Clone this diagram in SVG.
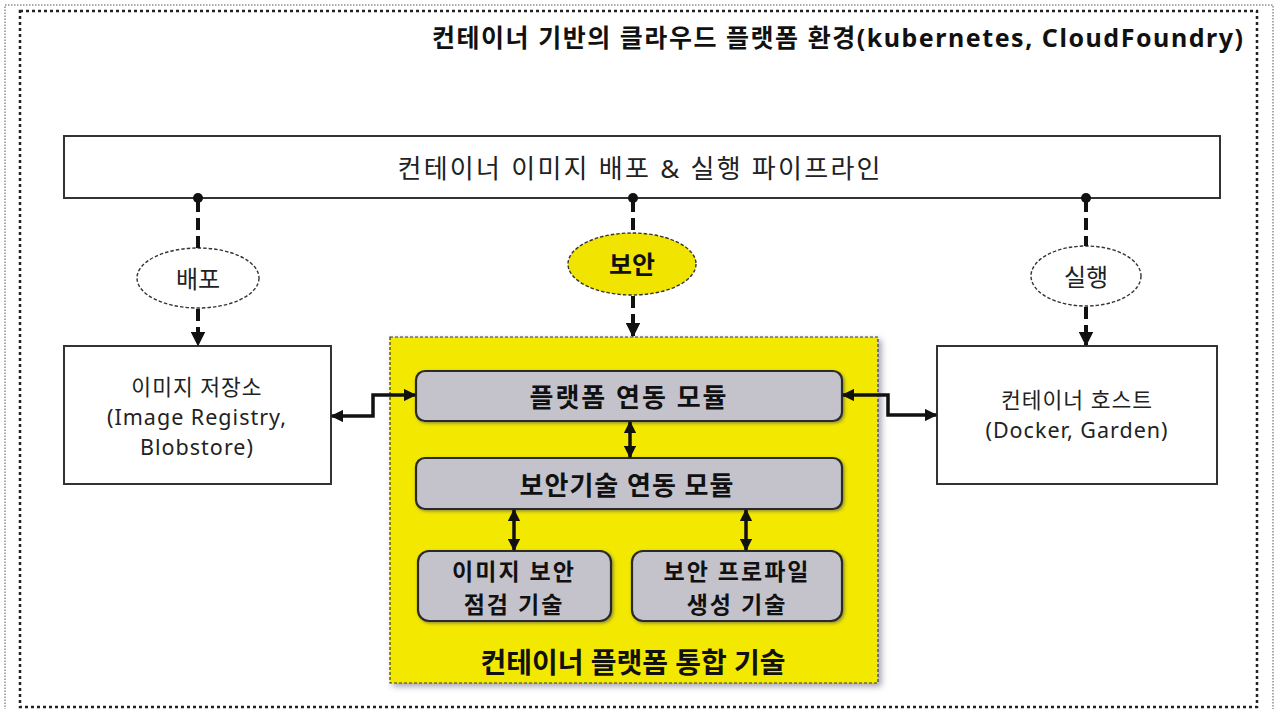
<svg xmlns="http://www.w3.org/2000/svg" width="1275" height="709" viewBox="0 0 1275 709">
<defs>
<style>
.t{font-family:"Noto Sans","Noto Sans CJK KR",sans-serif;fill:#222;text-anchor:middle;dominant-baseline:central}
.b{font-weight:bold;fill:#111}
.box{fill:#fff;stroke:#333;stroke-width:2}
.mod{fill:#c4c3cb;stroke:#2a2a2a;stroke-width:2.2}
.ell{fill:#fff;stroke:#333;stroke-width:1.4;stroke-dasharray:3.5 2}
.dash{fill:none;stroke:#111;stroke-width:4;stroke-dasharray:12 6}
.con{fill:none;stroke:#111;stroke-width:3.5}
</style>
<marker id="ah" viewBox="0 0 10 10" refX="9" refY="5" markerWidth="3.6" markerHeight="3.6" orient="auto-start-reverse" markerUnits="strokeWidth">
<path d="M0,0 L10,5 L0,10 z" fill="#111"/>
</marker>
<filter id="sh" x="-10%" y="-10%" width="120%" height="120%">
<feDropShadow dx="3" dy="3" stdDeviation="3" flood-color="#7a7890" flood-opacity="0.7"/>
</filter>
<filter id="sh2" x="-10%" y="-10%" width="120%" height="130%">
<feDropShadow dx="1.5" dy="1.5" stdDeviation="1.5" flood-color="#555" flood-opacity="0.6"/>
</filter>
</defs>
<rect width="1275" height="709" fill="#fff"/>
<rect x="5" y="5" width="1268" height="715" fill="none" stroke="#555" stroke-width="1" stroke-dasharray="1.5 1.5"/>
<rect x="20" y="11" width="1237" height="696" fill="none" stroke="#222" stroke-width="2.5" stroke-dasharray="3 3"/>

<g id="title">
<text class="t b" x="1243" y="37" font-size="25" style="text-anchor:end" textLength="811" lengthAdjust="spacing">컨테이너 기반의 클라우드 플랫폼 환경(kubernetes, CloudFoundry)</text>
</g>

<g id="pipeline">
<rect class="box" x="64" y="136" width="1156" height="62"/>
<text class="t" x="639" y="168" font-size="26" textLength="483" lengthAdjust="spacing">컨테이너 이미지 배포 &amp; 실행 파이프라인</text>
</g>

<g id="n-deploy">
<ellipse class="ell" cx="198" cy="278" rx="61" ry="30"/>
<text class="t" x="198" y="278" font-size="24">배포</text>
</g>
<g id="n-security">
<ellipse class="ell" cx="632" cy="264" rx="64" ry="31" style="fill:#f0e400"/>
<text class="t b" x="632" y="264" font-size="25">보안</text>
</g>
<g id="n-run">
<ellipse class="ell" cx="1086" cy="276" rx="55" ry="30"/>
<text class="t" x="1086" y="276" font-size="24">실행</text>
</g>

<g id="n-registry">
<rect class="box" x="64" y="346" width="267" height="138"/>
<text class="t" x="197" y="386" font-size="21.5" letter-spacing="1">이미지 저장소</text>
<text class="t" x="197" y="416" font-size="21.5" letter-spacing="1">(Image Registry,</text>
<text class="t" x="197" y="446" font-size="21.5" letter-spacing="1">Blobstore)</text>
</g>

<g id="n-host">
<rect class="box" x="937" y="346" width="280" height="138"/>
<text class="t" x="1077" y="399" font-size="21.5" letter-spacing="1">컨테이너 호스트</text>
<text class="t" x="1077" y="429" font-size="21.5" letter-spacing="1">(Docker, Garden)</text>
</g>

<g id="n-platform">
<rect x="390" y="337" width="488" height="346" fill="#f2e800" stroke="#333" stroke-width="1.2" stroke-dasharray="3 2" filter="url(#sh)"/>
<text class="t b" x="633" y="662" font-size="28">컨테이너 플랫폼 통합 기술</text>
</g>

<g id="n-mod1">
<rect class="mod" x="416" y="371" width="426" height="50" rx="9" filter="url(#sh2)"/>
<text class="t b" x="629" y="397" font-size="26" letter-spacing="2">플랫폼 연동 모듈</text>
</g>
<g id="n-mod2">
<rect class="mod" x="416" y="458" width="426" height="51" rx="9" filter="url(#sh2)"/>
<text class="t b" x="627" y="485" font-size="26" letter-spacing="1">보안기술 연동 모듈</text>
</g>
<g id="n-scan">
<rect class="mod" x="418" y="551" width="193" height="70" rx="11" filter="url(#sh2)"/>
<text class="t b" x="514" y="571" font-size="23" letter-spacing="2">이미지 보안</text>
<text class="t b" x="514" y="604" font-size="23" letter-spacing="2">점검 기술</text>
</g>
<g id="n-profile">
<rect class="mod" x="632" y="551" width="210" height="70" rx="11" filter="url(#sh2)"/>
<text class="t b" x="737" y="571" font-size="23" letter-spacing="2">보안 프로파일</text>
<text class="t b" x="737" y="604" font-size="23" letter-spacing="2">생성 기술</text>
</g>

<g id="connectors">
<circle cx="198" cy="198" r="5" fill="#111"/>
<circle cx="633" cy="198" r="5" fill="#111"/>
<circle cx="1086" cy="198" r="5" fill="#111"/>
<line class="dash" x1="198" y1="200" x2="198" y2="248"/>
<line class="dash" x1="633" y1="200" x2="633" y2="233"/>
<line class="dash" x1="1086" y1="200" x2="1086" y2="246"/>
<line class="dash" x1="198" y1="309" x2="198" y2="345" marker-end="url(#ah)"/>
<line class="dash" x1="633" y1="296" x2="633" y2="336" marker-end="url(#ah)"/>
<line class="dash" x1="1086" y1="307" x2="1086" y2="345" marker-end="url(#ah)"/>
<path class="con" d="M332,416 H373 V395 H415" marker-start="url(#ah)" marker-end="url(#ah)"/>
<path class="con" d="M843,395 H888 V415 H936" marker-start="url(#ah)" marker-end="url(#ah)"/>
<line class="con" x1="630" y1="422" x2="630" y2="457" marker-start="url(#ah)" marker-end="url(#ah)"/>
<line class="con" x1="514" y1="510" x2="514" y2="550" marker-start="url(#ah)" marker-end="url(#ah)"/>
<line class="con" x1="746" y1="510" x2="746" y2="550" marker-start="url(#ah)" marker-end="url(#ah)"/>
</g>
</svg>
